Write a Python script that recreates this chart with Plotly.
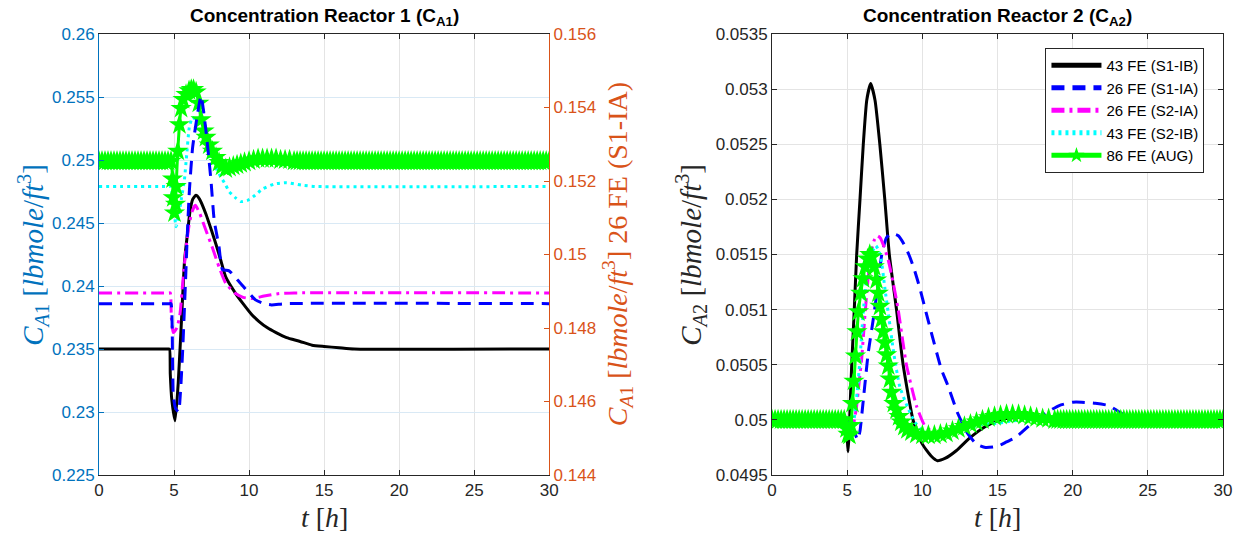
import numpy as np
import plotly.graph_objects as go

# ---------------- Reactor 1 (left panel) ----------------
# 43 FE (S1-IB), left axis
t1_s1ib = [0, 4.0, 4.6, 4.7, 4.75, 4.85, 5.07, 5.28, 5.51, 5.7, 5.9, 6.06, 6.25, 6.46, 6.7,
           7.13, 7.5, 7.8, 8.1, 8.45, 9.11, 9.6, 10.2, 10.65, 11.2, 11.8, 12.5, 13.4, 14.2,
           15.0, 16.0, 17.0, 30]
c1_s1ib = [0.2350, 0.2350, 0.2350, 0.2350, 0.2330, 0.2310, 0.2293, 0.2323, 0.2376, 0.2420,
           0.2442, 0.2459, 0.2469, 0.2472, 0.2469, 0.2457, 0.2444, 0.2433, 0.2421, 0.2407,
           0.2394, 0.2386, 0.2377, 0.2372, 0.2367, 0.2363, 0.2359, 0.2356, 0.2353, 0.2352,
           0.2351, 0.2350, 0.2350]

# 26 FE (S1-IA), right axis
t1_s1ia = [0, 4.0, 4.7, 4.8, 4.9, 4.95, 5.1, 5.3, 5.45, 5.58, 5.76, 5.9, 6.02, 6.24, 6.57,
           6.8, 7.13, 7.46, 7.68, 8.0, 8.23, 8.67, 9.44, 10.43, 11.0, 11.5, 12.5, 30]
c1_s1ia = [0.148663, 0.148663, 0.148663, 0.148663, 0.147154, 0.146160, 0.145817, 0.145714,
           0.146400, 0.147429, 0.149211, 0.150686, 0.151714, 0.152914, 0.153840, 0.154320,
           0.153360, 0.152023, 0.150926, 0.150206, 0.149589, 0.149554, 0.149211, 0.148766,
           0.148663, 0.148629, 0.148663, 0.148663]

# 26 FE (S2-IA), left axis
t1_s2ia = [0, 4.0, 4.65, 4.75, 4.82, 4.95, 5.2, 5.4, 5.6, 5.8, 6.0, 6.2, 6.42, 6.7, 7.1,
           7.6, 8.0, 8.45, 9.1, 9.6, 10.2, 11.0, 12.0, 13.0, 30]
c1_s2ia = [0.23945, 0.23945, 0.23945, 0.23945, 0.2375, 0.2363, 0.2367, 0.2378, 0.2405,
           0.2430, 0.2448, 0.2459, 0.2464, 0.2458, 0.2445, 0.2429, 0.2415, 0.2402, 0.2394,
           0.2391, 0.2390, 0.2392, 0.2394, 0.23945, 0.23945]

# 43 FE (S2-IB), left axis
t1_s2ib = [0, 4.0, 4.7, 4.8, 4.95, 5.14, 5.3, 5.5, 5.69, 5.85, 6.02, 6.24, 6.5, 6.9, 7.4,
           8.0, 8.45, 8.67, 9.1, 9.45, 9.9, 10.4, 10.9, 11.7, 12.5, 13.5, 14.4, 30]
c1_s2ib = [0.2479, 0.2479, 0.2479, 0.2479, 0.2465, 0.2447, 0.2455, 0.2470, 0.2484, 0.2505,
           0.2526, 0.2534, 0.2531, 0.2520, 0.2503, 0.2489, 0.2480, 0.2475, 0.2470, 0.2467,
           0.2468, 0.2472, 0.2477, 0.2481, 0.2482, 0.2480, 0.2479, 0.2479]

# 86 FE (AUG), left axis: steady samples plus the transient window
aug1_steady = 0.2499
t1_aug_mid = [4.8, 4.9, 4.95, 5.03, 5.1, 5.14, 5.25, 5.36, 5.47, 5.6, 5.8, 6.0, 6.15, 6.3,
              6.47, 6.65, 6.8, 7.0, 7.13, 7.35, 7.56, 7.8, 8.0, 8.2, 8.45, 8.7, 8.95, 9.2,
              9.45, 9.7, 10.0, 10.3, 10.6, 10.9, 11.2, 11.5, 11.8, 12.1, 12.4, 12.7, 13.0]
c1_aug_mid = [0.2499, 0.2485, 0.2470, 0.2458, 0.2465, 0.2479, 0.2507, 0.2528, 0.2541, 0.2548,
              0.2552, 0.2555, 0.2556, 0.2556, 0.2554, 0.2545, 0.2532, 0.2523, 0.2518, 0.2512,
              0.2507, 0.2502, 0.2498, 0.2495, 0.2493, 0.2494, 0.2495, 0.2496, 0.2497, 0.2498,
              0.2499, 0.2500, 0.2501, 0.2501, 0.2501, 0.2501, 0.2501, 0.2500, 0.2500, 0.2500,
              0.2499]
t1_aug_pre = list(np.round(np.arange(0, 4.7, 0.2), 2))
t1_aug_post = list(np.round(np.arange(13.2, 30.01, 0.2), 2))
t1_aug = t1_aug_pre + t1_aug_mid + t1_aug_post
c1_aug = [aug1_steady] * len(t1_aug_pre) + c1_aug_mid + [aug1_steady] * len(t1_aug_post)

# ---------------- Reactor 2 (right panel) ----------------
t2_s1ib = [0, 4.0, 4.9, 4.95, 5.0, 5.05, 5.12, 5.2, 5.3, 5.47, 5.63, 5.85, 6.07, 6.3, 6.56,
           6.85, 7.17, 7.5, 7.8, 8.28, 8.72, 9.38, 10.0, 10.6, 11.0, 11.5, 12.25, 13.1, 14.2,
           15.2, 16.0, 17.0, 18.5, 30]
c2_s1ib = [0.05, 0.05, 0.05, 0.05, 0.04985, 0.04971, 0.04985, 0.05015, 0.0505, 0.0510,
           0.0515, 0.0520, 0.0525, 0.0529, 0.05305, 0.0529, 0.0525, 0.0520, 0.0515, 0.0510,
           0.0505, 0.0500, 0.04978, 0.04967, 0.04963, 0.04965, 0.04972, 0.04983, 0.04994,
           0.05000, 0.05002, 0.05002, 0.05000, 0.05]

t2_s1ia = [0, 4.0, 5.0, 5.2, 5.45, 5.7, 5.85, 6.07, 6.4, 6.73, 7.07, 7.3, 7.6, 7.95, 8.4,
           8.75, 9.1, 9.45, 9.82, 10.2, 10.6, 11.26, 11.7, 12.35, 13.0, 13.6, 14.2, 15.0,
           15.6, 16.2, 17.3, 18.2, 19.1, 20.0, 20.6, 21.5, 22.4, 23.0, 23.6, 24.2, 25.0, 26.0,
           30]
c2_s1ia = [0.05, 0.05, 0.05, 0.05, 0.0499, 0.04982, 0.0499, 0.05018, 0.05061, 0.05091,
           0.05125, 0.0515, 0.05165, 0.05169, 0.05167, 0.05160, 0.05150, 0.05137, 0.05120,
           0.0510, 0.05079, 0.05046, 0.05031, 0.05006, 0.04988, 0.04978, 0.04975, 0.04976,
           0.0498, 0.04984, 0.04997, 0.05006, 0.05013, 0.05016, 0.05016, 0.05015, 0.05013,
           0.05008, 0.05003, 0.05, 0.04999, 0.05, 0.05]

t2_s2ia = [0, 4.0, 4.9, 5.0, 5.2, 5.4, 5.6, 5.8, 5.96, 6.18, 6.4, 6.6, 6.8, 7.0, 7.2, 7.45,
           7.73, 8.05, 8.39, 8.94, 9.6, 10.15, 10.7, 11.5, 12.5, 14.0, 16.0, 18.0, 20.0, 30]
c2_s2ia = [0.05, 0.05, 0.05, 0.05, 0.0499, 0.04995, 0.0501, 0.05035, 0.05055, 0.05095,
           0.0513, 0.05152, 0.05163, 0.05167, 0.05165, 0.05157, 0.05145, 0.05125, 0.0510,
           0.0505, 0.05013, 0.04995, 0.04989, 0.04988, 0.04991, 0.04998, 0.05003, 0.05002,
           0.05, 0.05]

t2_s2ib = [0, 4.0, 4.9, 5.0, 5.2, 5.35, 5.5, 5.7, 5.85, 6.05, 6.3, 6.6, 6.9, 7.2, 7.5, 7.8,
           8.1, 8.5, 9.0, 9.5, 10.0, 10.6, 12.0, 13.0, 14.0, 15.1, 16.0, 17.0, 30]
c2_s2ib = [0.05, 0.05, 0.05, 0.05, 0.04988, 0.0499, 0.05005, 0.0503, 0.05055, 0.05095,
           0.0513, 0.0515, 0.05158, 0.0515, 0.0512, 0.0509, 0.0506, 0.0503, 0.05012, 0.04998,
           0.0499, 0.04987, 0.04988, 0.04992, 0.04996, 0.04997, 0.04999, 0.05, 0.05]

aug2_steady = 0.05
t2_aug_mid = [4.95, 5.05, 5.15, 5.25, 5.35, 5.45, 5.55, 5.65, 5.75, 5.9, 6.05, 6.2, 6.35, 6.5,
              6.65, 6.8, 6.95, 7.07, 7.18, 7.28, 7.4, 7.5, 7.62, 7.73, 7.84, 7.95, 8.1, 8.28,
              8.45, 8.6, 8.8, 9.0, 9.27, 9.6, 10.0, 10.4, 10.8, 11.2, 11.6, 12.0, 12.4, 12.8,
              13.2, 13.6, 14.0, 14.4, 14.8, 15.2, 15.6, 16.0, 16.4, 16.8, 17.2, 17.6, 18.0,
              18.4, 18.8]
c2_aug_mid = [0.04992, 0.04987, 0.04986, 0.04995, 0.05015, 0.05035, 0.05058, 0.0508, 0.05098,
              0.05115, 0.05128, 0.05139, 0.05146, 0.0515, 0.05148, 0.05139, 0.05127, 0.05115,
              0.05103, 0.05091, 0.0508, 0.0507, 0.05059, 0.05049, 0.05037, 0.05025, 0.05015,
              0.05009, 0.05003, 0.04998, 0.04994, 0.04991, 0.04989, 0.04987, 0.04986, 0.04986,
              0.04986, 0.04987, 0.04988, 0.0499, 0.04992, 0.04994, 0.04996, 0.04998, 0.05,
              0.05002, 0.05003, 0.05004, 0.05005, 0.05005, 0.05005, 0.05004, 0.05003, 0.05002,
              0.05001, 0.05001, 0.05]
t2_aug_pre = list(np.round(np.arange(0, 4.81, 0.2), 2))
t2_aug_post = list(np.round(np.arange(19.0, 30.01, 0.2), 2))
t2_aug = t2_aug_pre + t2_aug_mid + t2_aug_post
c2_aug = [aug2_steady] * len(t2_aug_pre) + c2_aug_mid + [aug2_steady] * len(t2_aug_post)

# Axis ticks
x_ticks = [0, 5, 10, 15, 20, 25, 30]
y1_ticks = [0.225, 0.23, 0.235, 0.24, 0.245, 0.25, 0.255, 0.26]
y1_labels = ["0.225", "0.23", "0.235", "0.24", "0.245", "0.25", "0.255", "0.26"]
y1r_ticks = [0.144, 0.146, 0.148, 0.15, 0.152, 0.154, 0.156]
y1r_labels = ["0.144", "0.146", "0.148", "0.15", "0.152", "0.154", "0.156"]
y2_ticks = [0.0495, 0.05, 0.0505, 0.051, 0.0515, 0.052, 0.0525, 0.053, 0.0535]
y2_labels = ["0.0495", "0.05", "0.0505", "0.051", "0.0515", "0.052", "0.0525", "0.053", "0.0535"]

names = ["43 FE (S1-IB)", "26 FE (S1-IA)", "26 FE (S2-IA)", "43 FE (S2-IB)", "86 FE (AUG)"]

# ---------------- styling ----------------
BLUE_AX = "#0072BD"
ORANGE_AX = "#D95319"
DARK = "#262626"
LW = 3
styles = [
    dict(color="#000000", width=LW, dash="solid"),
    dict(color="#0000FF", width=LW, dash="13px,8px"),
    dict(color="#FF00FF", width=LW, dash="13px,5px,3px,5px"),
    dict(color="#00FFFF", width=LW, dash="3px,4px"),
    dict(color="#00FF00", width=LW, dash="solid"),
]
star = dict(symbol="star", size=16, color="#00FF00", line=dict(width=0))
sans = "Liberation Sans, Arial, sans-serif"
tick_font = dict(family=sans, size=17)

fig = go.Figure()

left_series = [(t1_s1ib, c1_s1ib, "y"), (t1_s1ia, c1_s1ia, "y2"), (t1_s2ia, c1_s2ia, "y"),
               (t1_s2ib, c1_s2ib, "y"), (t1_aug, c1_aug, "y")]
for i, (t, c, ya) in enumerate(left_series):
    fig.add_trace(go.Scatter(
        x=t, y=c, xaxis="x", yaxis=ya, name=names[i], showlegend=False,
        mode="lines+markers" if i == 4 else "lines",
        marker=star if i == 4 else None,
        line=dict(**styles[i], shape="spline", smoothing=0.5)))

right_series = [(t2_s1ib, c2_s1ib), (t2_s1ia, c2_s1ia), (t2_s2ia, c2_s2ia),
                (t2_s2ib, c2_s2ib), (t2_aug, c2_aug)]
for i, (t, c) in enumerate(right_series):
    fig.add_trace(go.Scatter(
        x=t, y=c, xaxis="x2", yaxis="y3", name=names[i], showlegend=True,
        mode="lines+markers" if i == 4 else "lines",
        marker=star if i == 4 else None,
        line=dict(**styles[i], shape="spline", smoothing=0.5)))

common_x = dict(range=[0, 30], tickvals=x_ticks, ticks="inside", ticklen=5, showline=True,
                linecolor=DARK, linewidth=1, mirror="ticks", tickcolor=DARK,
                gridcolor="#e4e4e4", zeroline=False, tickfont=dict(**tick_font, color=DARK))

fig.update_layout(
    width=1244, height=542,
    margin=dict(l=99, r=16, t=34, b=67),
    plot_bgcolor="white", paper_bgcolor="white",
    xaxis=dict(domain=[0, 0.4005], anchor="y", **common_x),
    yaxis=dict(range=[0.225, 0.26], tickvals=y1_ticks, ticktext=y1_labels, ticks="inside",
               ticklen=5, tickcolor=BLUE_AX, showline=True, linecolor=BLUE_AX, linewidth=1,
               gridcolor="#d9e9f5", zeroline=False, anchor="x",
               tickfont=dict(**tick_font, color=BLUE_AX)),
    yaxis2=dict(range=[0.144, 0.156], tickvals=y1r_ticks, ticktext=y1r_labels,
                overlaying="y", side="right", anchor="x", ticks="inside", ticklen=5,
                tickcolor=ORANGE_AX, showline=True, linecolor=ORANGE_AX, linewidth=1,
                showgrid=False, zeroline=False, tickfont=dict(**tick_font, color=ORANGE_AX)),
    xaxis2=dict(domain=[0.5988, 1], anchor="y3", **common_x),
    yaxis3=dict(range=[0.0495, 0.0535], tickvals=y2_ticks, ticktext=y2_labels, anchor="x2",
                ticks="inside", ticklen=5, tickcolor=DARK, showline=True, linecolor=DARK,
                linewidth=1, mirror="ticks", gridcolor="#e4e4e4", zeroline=False,
                tickfont=dict(**tick_font, color=DARK)),
    legend=dict(x=0.9835, y=0.968, xanchor="right", yanchor="top", bgcolor="white",
                bordercolor=DARK, borderwidth=1, itemwidth=50, itemsizing="constant",
                font=dict(family=sans, size=15, color="#000000"), tracegroupgap=0),
)

serif = "Liberation Serif, Times New Roman, serif"
title_font = dict(family=sans, size=19, color="#000000")
ylab = "<i>C</i><sub><i>A</i>1</sub> [<i>lbmole</i>/<i>ft</i><sup>3</sup>]"
annotations = [
    dict(text="<b>Concentration Reactor 1 (C<sub>A1</sub>)</b>", x=0.2002, y=1.0385,
         font=title_font),
    dict(text="<b>Concentration Reactor 2 (C<sub>A2</sub>)</b>", x=0.7994, y=1.0385,
         font=title_font),
    dict(text="<i>t</i> [<i>h</i>]", x=0.2002, y=-0.0975, font=dict(family=serif, size=28, color=DARK)),
    dict(text="<i>t</i> [<i>h</i>]", x=0.7994, y=-0.0975, font=dict(family=serif, size=28, color=DARK)),
    dict(text=ylab, x=-0.0593, y=0.5, textangle=-90, font=dict(family=serif, size=29, color=BLUE_AX)),
    dict(text=ylab + " 26 FE (S1-IA)", x=0.4615, y=0.5, textangle=-90,
         font=dict(family=serif, size=28, color=ORANGE_AX)),
    dict(text="<i>C</i><sub><i>A</i>2</sub> [<i>lbmole</i>/<i>ft</i><sup>3</sup>]", x=0.526,
         y=0.5, textangle=-90, font=dict(family=serif, size=29, color=DARK)),
]
for a in annotations:
    fig.add_annotation(xref="paper", yref="paper", showarrow=False, xanchor="center",
                       yanchor="middle", **a)

fig.write_html("out.html")
